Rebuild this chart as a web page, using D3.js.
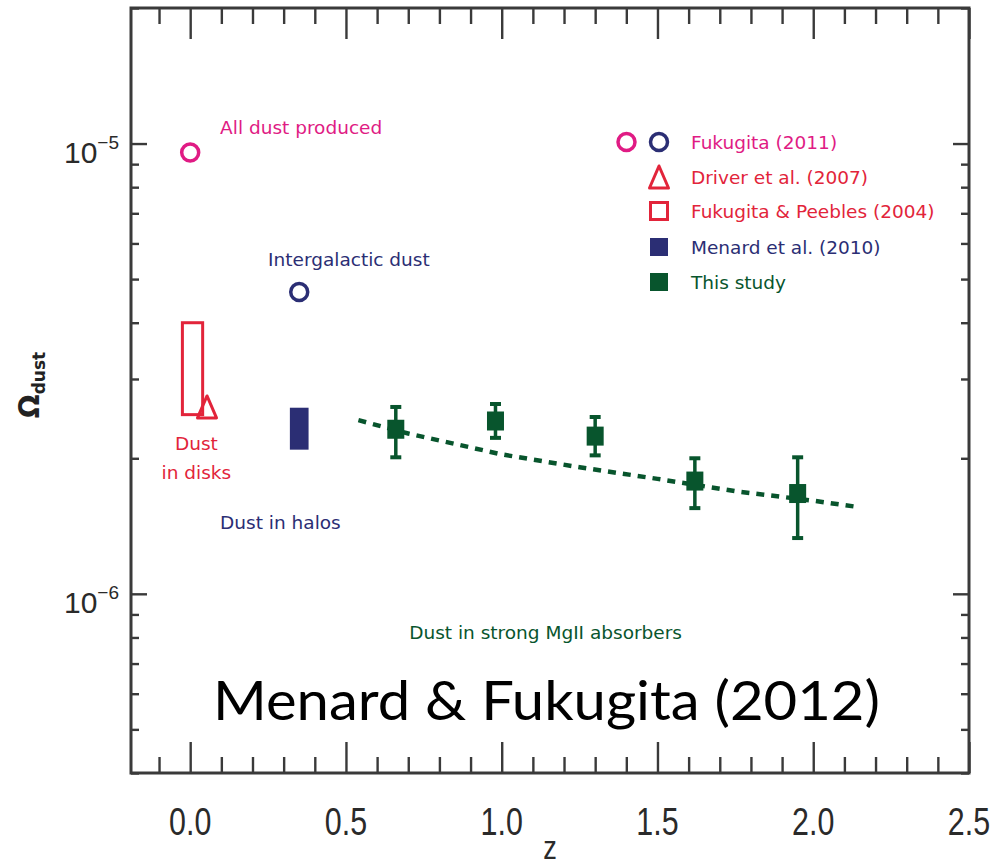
<!DOCTYPE html>
<html>
<head>
<meta charset="utf-8">
<script src="https://cdn.jsdelivr.net/npm/d3@7"></script>
<style>
  body { margin: 0; background: #fff; }
  svg text { font-family: "DejaVu Sans", sans-serif; }
</style>
</head>
<body>
<svg id="chart" width="992" height="868"></svg>
<script>
// ---- Data -----------------------------------------------------------
// This study: dust in strong MgII absorbers (value and error range)
const studyZ     = [0.66, 0.98, 1.30, 1.62, 1.95];
const studyOmega = [2.32e-6, 2.42e-6, 2.24e-6, 1.78e-6, 1.67e-6];
const studyHigh  = [2.60e-6, 2.64e-6, 2.47e-6, 2.00e-6, 2.01e-6];
const studyLow   = [2.01e-6, 2.22e-6, 2.03e-6, 1.55e-6, 1.33e-6];

// Dashed fit through the MgII measurements
const fitZ     = [0.54, 0.70, 1.00, 1.25, 1.50, 1.75, 2.00, 2.14];
const fitOmega = [2.43e-6, 2.27e-6, 2.04e-6, 1.91e-6, 1.80e-6, 1.69e-6, 1.61e-6, 1.56e-6];

// Fukugita (2011): all dust produced, intergalactic dust
const fukugitaZ     = [0.0, 0.35];
const fukugitaOmega = [9.55e-6, 4.68e-6];

// Driver et al. (2007): dust in disks
const driverZ     = [0.054];
const driverOmega = [2.60e-6];

// Fukugita & Peebles (2004): range for dust in disks
const peeblesZ     = [-0.025, 0.04];
const peeblesOmega = [2.50e-6, 4.00e-6];

// Menard et al. (2010): range for dust in halos
const menardZ     = [0.32, 0.38];
const menardOmega = [2.09e-6, 2.59e-6];

// Axis ticks
const xMajorTicks = [0.0, 0.5, 1.0, 1.5, 2.0, 2.5];
const xTickLabels = ["0.0", "0.5", "1.0", "1.5", "2.0", "2.5"];
const yMajorTicks = [1e-6, 1e-5];
const yTickExponents = ["\u22126", "\u22125"];

// Legend and annotation texts
const legendLabels = ["Fukugita (2011)", "Driver et al. (2007)", "Fukugita & Peebles (2004)",
                      "Menard et al. (2010)", "This study"];
const annotationTexts = ["All dust produced", "Intergalactic dust", "Dust", "in disks",
                         "Dust in halos", "Dust in strong MgII absorbers"];
const annotationZ     = [0.096, 0.25, 0.02, 0.02, 0.096, 0.703];
const annotationOmega = [1.05e-5, 5.34e-6, 2.09e-6, 1.795e-6, 1.39e-6, 7.94e-7];

// ---- Styling ---------------------------------------------------------
const PINK = "#e01b84", RED = "#e2243a", NAVY = "#2b2e74", GREEN = "#08552d", AXIS = "#3a3a3a";
const annotationColors = [PINK, NAVY, RED, RED, NAVY, GREEN];
const annotationAnchors = ["start", "start", "middle", "middle", "start", "start"];

const svg = d3.select("#chart");
const plot = { left: 131, right: 969, top: 8, bottom: 773 };

const x = d3.scaleLinear().domain([-0.19, 2.5]).range([plot.left, plot.right]);
const y = d3.scaleLog().domain([4e-7, 2e-5]).range([plot.bottom, plot.top]);

// ---- Axes: ticks on all four sides, pointing inward ------------------
const xMinor = d3.range(-1, 26).map(i => i / 10).filter(v => !xMajorTicks.some(m => Math.abs(m - v) < 1e-9));
const yMinor = [];
[1e-7, 1e-6, 1e-5].forEach(d => { for (let k = 2; k <= 9; k++) yMinor.push(k * d); });
const yMinorIn = yMinor.filter(v => v >= 4e-7 && v <= 2e-5);

function styleAxis(g) {
  g.select(".domain").remove();
  g.selectAll(".tick line").attr("stroke", AXIS).attr("stroke-width", 2.4);
  g.selectAll(".tick text").remove();
}

svg.append("g").attr("transform", `translate(0,${plot.bottom})`)
  .call(d3.axisBottom(x).tickValues(xMajorTicks).tickSize(-31)).call(styleAxis);
svg.append("g").attr("transform", `translate(0,${plot.bottom})`)
  .call(d3.axisBottom(x).tickValues(xMinor).tickSize(-16)).call(styleAxis);
svg.append("g").attr("transform", `translate(0,${plot.top})`)
  .call(d3.axisTop(x).tickValues(xMajorTicks).tickSize(-31)).call(styleAxis);
svg.append("g").attr("transform", `translate(0,${plot.top})`)
  .call(d3.axisTop(x).tickValues(xMinor).tickSize(-16)).call(styleAxis);

svg.append("g").attr("transform", `translate(${plot.left},0)`)
  .call(d3.axisLeft(y).tickValues(yMajorTicks).tickSize(-16)).call(styleAxis);
svg.append("g").attr("transform", `translate(${plot.left},0)`)
  .call(d3.axisLeft(y).tickValues(yMinorIn).tickSize(-8)).call(styleAxis);
svg.append("g").attr("transform", `translate(${plot.right},0)`)
  .call(d3.axisRight(y).tickValues(yMajorTicks).tickSize(-16)).call(styleAxis);
svg.append("g").attr("transform", `translate(${plot.right},0)`)
  .call(d3.axisRight(y).tickValues(yMinorIn).tickSize(-8)).call(styleAxis);

// Frame
svg.append("rect")
  .attr("x", plot.left).attr("y", plot.top)
  .attr("width", plot.right - plot.left).attr("height", plot.bottom - plot.top)
  .attr("fill", "none").attr("stroke", AXIS).attr("stroke-width", 3);

// X tick labels (narrow sans)
svg.append("g").selectAll("text").data(xMajorTicks).join("text")
  .attr("transform", d => `translate(${x(d)},${plot.bottom + 62}) scale(0.8,1)`)
  .attr("text-anchor", "middle")
  .style("font-family", "'Liberation Sans', Arial, sans-serif")
  .style("font-size", "38px").attr("fill", "#2a2a2a")
  .text((d, i) => xTickLabels[i]);

// X axis title
svg.append("text")
  .attr("transform", `translate(${(plot.left + plot.right) / 2},${plot.bottom + 86}) scale(0.8,1)`)
  .attr("text-anchor", "middle")
  .style("font-family", "'Liberation Sans', Arial, sans-serif")
  .style("font-size", "34px").attr("fill", "#2a2a2a").text("z");

// Y tick labels: 10 with superscript exponent
const yLab = svg.append("g").selectAll("text").data(yMajorTicks).join("text")
  .attr("x", plot.left - 12).attr("y", d => y(d) + 19)
  .attr("text-anchor", "end")
  .style("font-family", "'Liberation Sans', Arial, sans-serif")
  .attr("fill", "#2a2a2a");
yLab.append("tspan").style("font-size", "30px").text("10");
yLab.append("tspan").style("font-size", "19px").attr("dy", -14)
  .text((d, i) => yTickExponents[i]);

// Y axis title: Omega_dust
const yTitle = svg.append("text")
  .attr("transform", "translate(39,385) rotate(-90)")
  .attr("text-anchor", "middle").attr("fill", "#222");
yTitle.append("tspan").style("font-size", "28px").style("font-weight", "bold").text("\u03A9");
yTitle.append("tspan").style("font-size", "17px").style("font-weight", "bold").attr("dy", 6).text("dust");

// ---- Marks -------------------------------------------------------------
// Fukugita & Peebles (2004) range box
svg.append("rect")
  .attr("x", x(peeblesZ[0])).attr("y", y(peeblesOmega[1]))
  .attr("width", x(peeblesZ[1]) - x(peeblesZ[0]))
  .attr("height", y(peeblesOmega[0]) - y(peeblesOmega[1]))
  .attr("fill", "none").attr("stroke", RED).attr("stroke-width", 3);

// Driver et al. (2007) triangle
const triPath = "M0,-11L9.5,11L-9.5,11Z";
svg.append("g").selectAll("path").data(driverZ).join("path")
  .attr("transform", (d, i) => `translate(${x(d)},${y(driverOmega[i])})`)
  .attr("d", triPath).attr("fill", "none").attr("stroke", RED)
  .attr("stroke-width", 3).attr("stroke-linejoin", "round");

// Menard et al. (2010) filled box
svg.append("rect")
  .attr("x", x(menardZ[0])).attr("y", y(menardOmega[1]))
  .attr("width", x(menardZ[1]) - x(menardZ[0]))
  .attr("height", y(menardOmega[0]) - y(menardOmega[1]))
  .attr("fill", NAVY);

// Fukugita (2011) open circles
svg.append("g").selectAll("circle").data(fukugitaZ).join("circle")
  .attr("cx", d => x(d)).attr("cy", (d, i) => y(fukugitaOmega[i]))
  .attr("r", 8.5).attr("fill", "none")
  .attr("stroke", (d, i) => i === 0 ? PINK : NAVY).attr("stroke-width", 3.5);

// Dashed fit
svg.append("path")
  .datum(fitZ.map((z, i) => [z, fitOmega[i]]))
  .attr("d", d3.line().x(d => x(d[0])).y(d => y(d[1])))
  .attr("fill", "none").attr("stroke", GREEN).attr("stroke-width", 4.5)
  .attr("stroke-dasharray", "8,7");

// This study: error bars and squares
const study = svg.append("g").selectAll("g").data(studyZ).join("g");
study.append("line")
  .attr("x1", d => x(d)).attr("x2", d => x(d))
  .attr("y1", (d, i) => y(studyLow[i])).attr("y2", (d, i) => y(studyHigh[i]))
  .attr("stroke", GREEN).attr("stroke-width", 3.5);
study.append("line")
  .attr("x1", d => x(d) - 5.5).attr("x2", d => x(d) + 5.5)
  .attr("y1", (d, i) => y(studyHigh[i])).attr("y2", (d, i) => y(studyHigh[i]))
  .attr("stroke", GREEN).attr("stroke-width", 4);
study.append("line")
  .attr("x1", d => x(d) - 5.5).attr("x2", d => x(d) + 5.5)
  .attr("y1", (d, i) => y(studyLow[i])).attr("y2", (d, i) => y(studyLow[i]))
  .attr("stroke", GREEN).attr("stroke-width", 4);
study.append("rect")
  .attr("x", d => x(d) - 8.5).attr("y", (d, i) => y(studyOmega[i]) - 9.5)
  .attr("width", 17).attr("height", 19).attr("fill", GREEN);

// ---- Annotations -------------------------------------------------------
svg.append("g").selectAll("text").data(annotationTexts).join("text")
  .attr("x", (d, i) => x(annotationZ[i])).attr("y", (d, i) => y(annotationOmega[i]))
  .attr("text-anchor", (d, i) => annotationAnchors[i])
  .attr("fill", (d, i) => annotationColors[i])
  .style("font-size", "18.5px")
  .text(d => d);

// ---- Legend ------------------------------------------------------------
const legendX = 659, legendTextX = 691;
const legendRows = [142, 177, 211, 247, 282];
const legendColors = [PINK, RED, RED, NAVY, GREEN];
const legend = svg.append("g");
legend.append("circle").attr("cx", 626.5).attr("cy", legendRows[0]).attr("r", 8.5)
  .attr("fill", "none").attr("stroke", PINK).attr("stroke-width", 3.5);
legend.append("circle").attr("cx", legendX).attr("cy", legendRows[0]).attr("r", 8.5)
  .attr("fill", "none").attr("stroke", NAVY).attr("stroke-width", 3.5);
legend.append("path").attr("transform", `translate(${legendX},${legendRows[1]})`)
  .attr("d", triPath).attr("fill", "none").attr("stroke", RED)
  .attr("stroke-width", 3).attr("stroke-linejoin", "round");
legend.append("rect").attr("x", legendX - 8.5).attr("y", legendRows[2] - 8.5)
  .attr("width", 17).attr("height", 17).attr("fill", "none")
  .attr("stroke", RED).attr("stroke-width", 3);
legend.append("rect").attr("x", legendX - 9).attr("y", legendRows[3] - 9)
  .attr("width", 18).attr("height", 18).attr("fill", NAVY);
legend.append("rect").attr("x", legendX - 9).attr("y", legendRows[4] - 9)
  .attr("width", 18).attr("height", 18).attr("fill", GREEN);
legend.selectAll("text").data(legendLabels).join("text")
  .attr("x", legendTextX).attr("y", (d, i) => legendRows[i] + 6.5)
  .attr("fill", (d, i) => legendColors[i])
  .style("font-size", "18.5px")
  .text(d => d);

// ---- Citation ----------------------------------------------------------
svg.append("text")
  .attr("x", 213).attr("y", 720)
  .attr("textLength", 667).attr("lengthAdjust", "spacingAndGlyphs")
  .style("font-family", "Lato, 'Open Sans', sans-serif")
  .style("font-size", "55px").attr("fill", "#000")
  .text("Menard & Fukugita (2012)");
</script>
</body>
</html>
